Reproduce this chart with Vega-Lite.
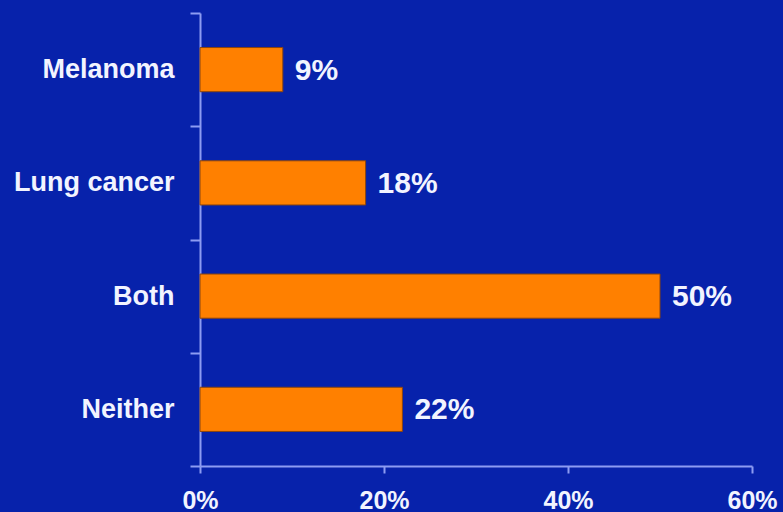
{
  "$schema": "https://vega.github.io/schema/vega-lite/v6.json",
  "width": 552,
  "height": 453,
  "autosize": "none",
  "padding": {"left": 200, "top": 13, "right": 31, "bottom": 46},
  "background": "#0722ab",
  "config": {
    "view": {"stroke": null},
    "font": "Liberation Sans",
    "axis": {"grid": false, "domainColor": "#8d9cf2", "tickColor": "#8d9cf2", "domainWidth": 2, "tickWidth": 2, "labelColor": "#f2f4ff", "labelFont": "Liberation Sans", "labelFontWeight": "bold"}
  },
  "data": {
    "values": [
      {"category": "Melanoma", "value": 0.09, "label": "9%"},
      {"category": "Lung cancer", "value": 0.18, "label": "18%"},
      {"category": "Both", "value": 0.50, "label": "50%"},
      {"category": "Neither", "value": 0.22, "label": "22%"}
    ]
  },
  "encoding": {
    "y": {
      "field": "category", "type": "nominal", "sort": null,
      "scale": {"paddingInner": 0, "paddingOuter": 0},
      "axis": {"title": null, "tickBand": "extent", "tickSize": 10, "labelPadding": 16, "labelFontSize": 27}
    },
    "x": {
      "field": "value", "type": "quantitative",
      "scale": {"domain": [0, 0.6], "nice": false},
      "axis": {"title": null, "values": [0, 0.2, 0.4, 0.6], "format": ".0%", "tickSize": 7, "labelPadding": 15, "labelFontSize": 25, "labelFlush": false, "labelOverlap": false}
    }
  },
  "layer": [
    {"mark": {"type": "bar", "height": {"band": 0.39}, "color": "#ff8000", "stroke": "#8a4510", "strokeWidth": 1}},
    {"mark": {"type": "text", "align": "left", "baseline": "middle", "dx": 12, "dy": 1, "fontSize": 30, "fontWeight": "bold", "color": "#f2f4ff", "font": "Liberation Sans"}, "encoding": {"text": {"field": "label"}}}
  ]
}
